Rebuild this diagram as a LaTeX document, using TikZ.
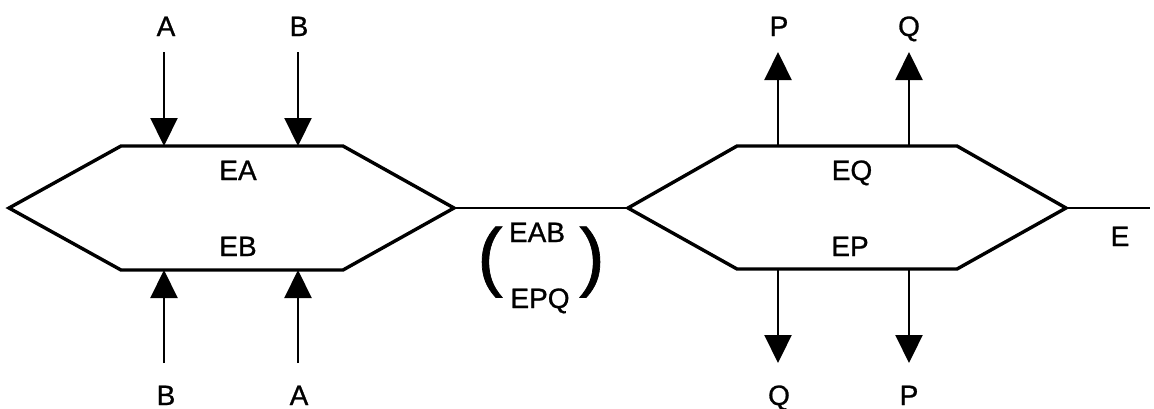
\documentclass[tikz,border=0pt]{standalone}
\usepackage{fontspec}
\setmainfont[UprightFeatures={FakeBold=0.9}]{Liberation Sans}
\usetikzlibrary{arrows.meta}
\tikzset{
  lbl/.style={inner sep=0pt, text height=10pt, text depth=0pt, font=\fontsize{14}{14}\selectfont},
  par/.style={inner sep=0pt, font=\fontsize{38}{38}\selectfont},
  hex/.style={line width=1.7pt, line join=miter},
  flow/.style={line width=1.1pt, -{Triangle[width=13.5pt,length=14pt]}},
  wire/.style={line width=1.3pt}
}
\begin{document}
\begin{tikzpicture}[x=0.5pt,y=-0.5pt]
\useasboundingbox (0,0) rectangle (1154,408);
% left hexagon
\coordinate (L1) at (9,208);
\coordinate (L2) at (121,146);
\coordinate (L3) at (343,146);
\coordinate (L4) at (454,208);
\coordinate (L5) at (343,270);
\coordinate (L6) at (121,270);
\draw[hex] (L1) -- (L2) -- (L3) -- (L4) -- (L5) -- (L6) -- cycle;
% right hexagon
\coordinate (R1) at (628,208);
\coordinate (R2) at (737,146);
\coordinate (R3) at (957,146);
\coordinate (R4) at (1066,208);
\coordinate (R5) at (957,269);
\coordinate (R6) at (737,269);
\draw[hex] (R1) -- (R2) -- (R3) -- (R4) -- (R5) -- (R6) -- cycle;
\coordinate (Eend) at (1150,208);
\draw[wire] (L4) -- (R1);
\draw[wire] (R4) -- (Eend);
% labels
\node[lbl] (tA) at (166,26) {A};
\node[lbl] (tB) at (299,26) {B};
\node[lbl] (bB) at (166,395) {B};
\node[lbl] (bA) at (299,395) {A};
\node[lbl] (tP) at (779,26) {P};
\node[lbl] (tQ) at (909,26) {Q};
\node[lbl] (bQ) at (779,395) {Q};
\node[lbl] (bP) at (909,395) {P};
\node[lbl] (EA) at (238,170) {EA};
\node[lbl] (EB) at (238,246) {EB};
\node[lbl] (EQ) at (852,170) {EQ};
\node[lbl] (EP) at (850,246) {EP};
\node[lbl] (E) at (1120,236) {E};
\node[lbl] (EAB) at (537,232) {EAB};
\node[lbl] (EPQ) at (540,298) {EPQ};
\node[par] (lp) at (490,262) {(};
\node[par] (rp) at (592,262) {)};
% arrow end points
\coordinate (a1s) at (164,52);  \coordinate (a1e) at (164,146);
\coordinate (a2s) at (298,52);  \coordinate (a2e) at (298,146);
\coordinate (a3s) at (164,363); \coordinate (a3e) at (164,270);
\coordinate (a4s) at (298,363); \coordinate (a4e) at (298,270);
\coordinate (p1s) at (778,146); \coordinate (p1e) at (778,52);
\coordinate (p2s) at (909,146); \coordinate (p2e) at (909,52);
\coordinate (p3s) at (778,269); \coordinate (p3e) at (778,363);
\coordinate (p4s) at (909,269); \coordinate (p4e) at (909,363);
\draw[flow] (a1s) -- (a1e);
\draw[flow] (a2s) -- (a2e);
\draw[flow] (a3s) -- (a3e);
\draw[flow] (a4s) -- (a4e);
\draw[flow] (p1s) -- (p1e);
\draw[flow] (p2s) -- (p2e);
\draw[flow] (p3s) -- (p3e);
\draw[flow] (p4s) -- (p4e);
\end{tikzpicture}
\end{document}
